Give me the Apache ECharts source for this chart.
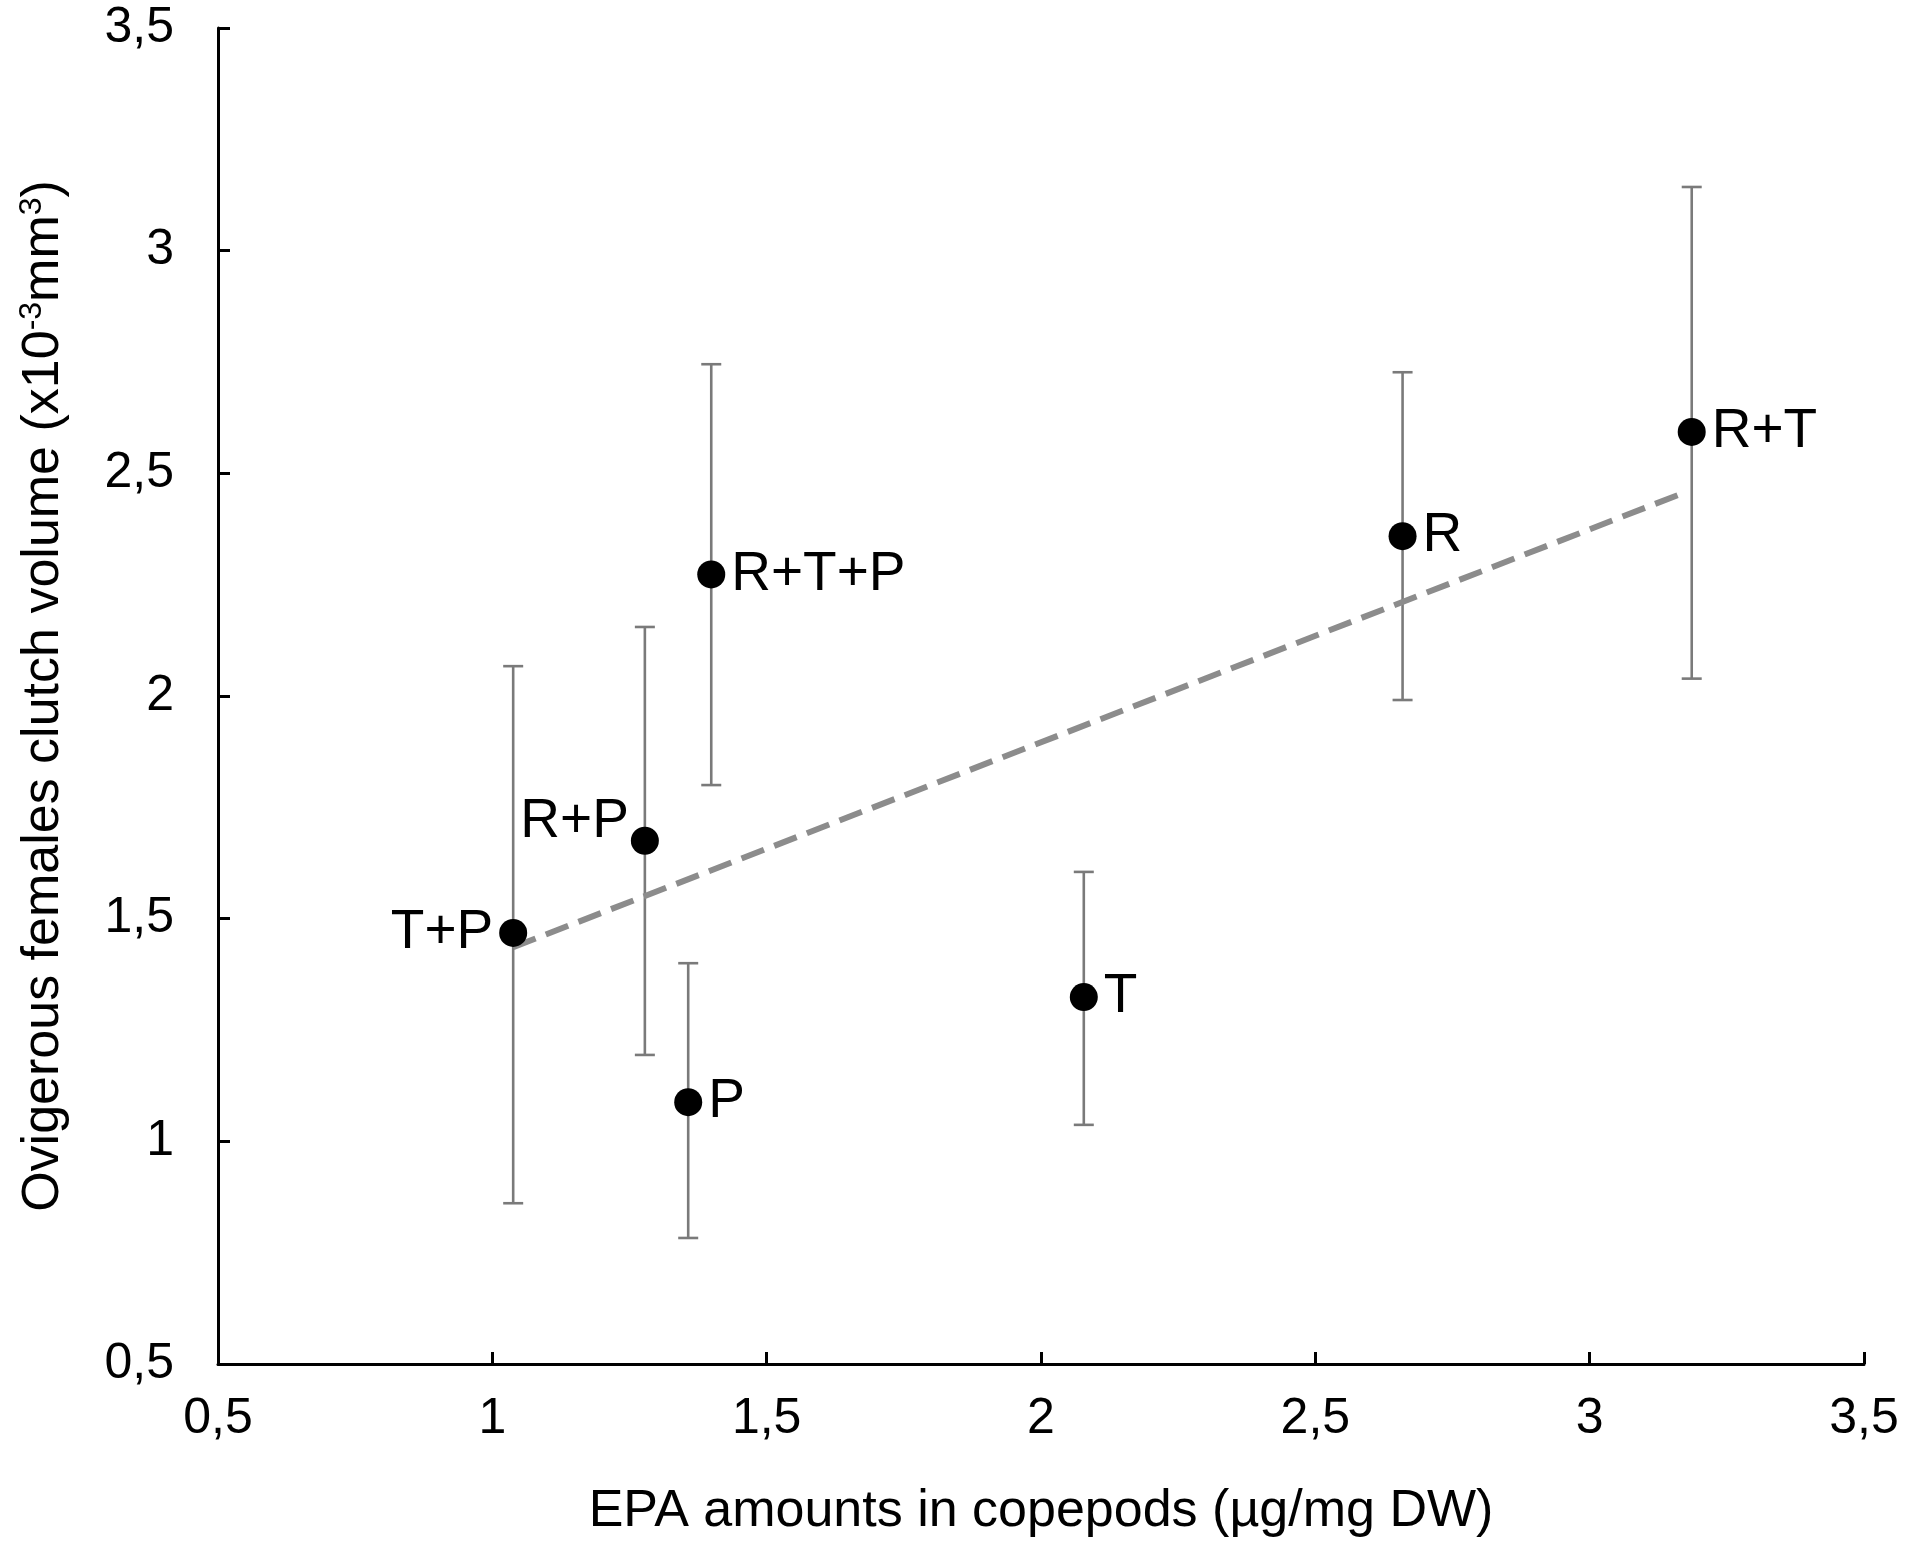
<!DOCTYPE html>
<html>
  <head>
    <meta charset="UTF-8" />
    <title>EPA vs clutch volume</title>
    <style>
      html,
      body {
        margin: 0;
        padding: 0;
        background: #fff;
      }
      #main {
        width: 1910px;
        height: 1546px;
      }
    </style>
  </head>
  <body>
    <div id="main"></div>
  </body>
  <script src="https://cdn.jsdelivr.net/npm/echarts@6/dist/echarts.min.js"></script>
  <script>
    // diet groups and their values
    var groups = ["T+P", "R+P", "P", "R+T+P", "T", "R", "R+T"];
    var epa = [1.038, 1.278, 1.357, 1.399, 2.078, 2.659, 3.186];
    var clutch = [1.468, 1.675, 1.088, 2.273, 1.324, 2.359, 2.593];
    var errLow = [0.861, 1.194, 0.783, 1.8, 1.037, 1.991, 2.039];
    var errHigh = [2.067, 2.155, 1.4, 2.745, 1.605, 2.727, 3.143];
    var labelSide = ["left", "left", "right", "right", "right", "right", "right"];
    // linear trend line end points
    var trendX = [1.038, 3.177];
    var trendY = [1.436, 2.459];

    var font = "'Liberation Sans', Arial, sans-serif";
    var myChart = echarts.init(document.getElementById("main"));

    function comma(v) {
      return String(v).replace(".", ",");
    }

    var points = [];
    for (var i = 0; i < groups.length; i++) {
      var item = {
        name: groups[i],
        value: [epa[i], clutch[i]],
        label: { position: labelSide[i] },
      };
      if (groups[i] === "R+P") {
        item.label.distance = 2;
        item.label.offset = [0, -19];
      }
      points.push(item);
    }

    var bars = [];
    for (var j = 0; j < epa.length; j++) {
      bars.push([epa[j], errLow[j], errHigh[j]]);
    }

    var trend = [];
    for (var k = 0; k < trendX.length; k++) {
      trend.push([trendX[k], trendY[k]]);
    }

    var option = {
      backgroundColor: "#fff",
      animation: false,
      textStyle: { fontFamily: font },
      grid: {
        left: 218,
        right: 46,
        top: 28,
        bottom: 182,
        containLabel: false,
      },
      xAxis: {
        type: "value",
        min: 0.5,
        max: 3.5,
        interval: 0.5,
        name: "EPA amounts in copepods (µg/mg DW)",
        nameLocation: "middle",
        nameGap: 122,
        nameTextStyle: { color: "#000", fontSize: 52, fontFamily: font },
        axisLine: { lineStyle: { color: "#000", width: 3 } },
        axisTick: { inside: true, length: 12, lineStyle: { color: "#000", width: 3 } },
        axisLabel: {
          color: "#000",
          fontSize: 50,
          fontFamily: font,
          margin: 30,
          formatter: comma,
        },
        splitLine: { show: false },
      },
      yAxis: {
        type: "value",
        min: 0.5,
        max: 3.5,
        interval: 0.5,
        name: "{n|Ovigerous females clutch volume (x10}{s|-3}{n|mm}{s|3}{n|)}",
        nameLocation: "middle",
        nameRotate: 90,
        nameGap: 146,
        nameTextStyle: {
          color: "#000",
          fontSize: 52,
          fontFamily: font,
          rich: {
            n: { fontSize: 52, fontFamily: font, color: "#000" },
            s: {
              fontSize: 32,
              fontFamily: font,
              color: "#000",
              verticalAlign: "top",
              padding: [0, 0, 24, 0],
            },
          },
        },
        axisLine: { show: true, lineStyle: { color: "#000", width: 3 } },
        axisTick: { show: true, inside: true, length: 12, lineStyle: { color: "#000", width: 3 } },
        axisLabel: {
          color: "#000",
          fontSize: 50,
          fontFamily: font,
          margin: 44,
          formatter: comma,
        },
        splitLine: { show: false },
      },
      series: [
        {
          name: "error",
          type: "custom",
          z: 1,
          silent: true,
          encode: { x: 0, y: [1, 2] },
          data: bars,
          renderItem: function (params, api) {
            var x = api.value(0);
            var lo = api.coord([x, api.value(1)]);
            var hi = api.coord([x, api.value(2)]);
            var cap = 10;
            var style = { stroke: "#7a7a7a", lineWidth: 2.6 };
            return {
              type: "group",
              children: [
                { type: "line", shape: { x1: hi[0], y1: hi[1], x2: lo[0], y2: lo[1] }, style: style },
                { type: "line", shape: { x1: hi[0] - cap, y1: hi[1], x2: hi[0] + cap, y2: hi[1] }, style: style },
                { type: "line", shape: { x1: lo[0] - cap, y1: lo[1], x2: lo[0] + cap, y2: lo[1] }, style: style },
              ],
            };
          },
        },
        {
          name: "trend",
          type: "line",
          z: 2,
          silent: true,
          symbol: "none",
          data: trend,
          lineStyle: { color: "#8c8c8c", width: 6, type: [24, 11] },
        },
        {
          name: "groups",
          type: "scatter",
          z: 3,
          symbolSize: 28,
          itemStyle: { color: "#000", opacity: 1 },
          data: points,
          label: {
            show: true,
            formatter: "{b}",
            color: "#000",
            fontSize: 55,
            fontFamily: font,
            distance: 6,
          },
        },
      ],
    };
    myChart.setOption(option);
  </script>
</html>
